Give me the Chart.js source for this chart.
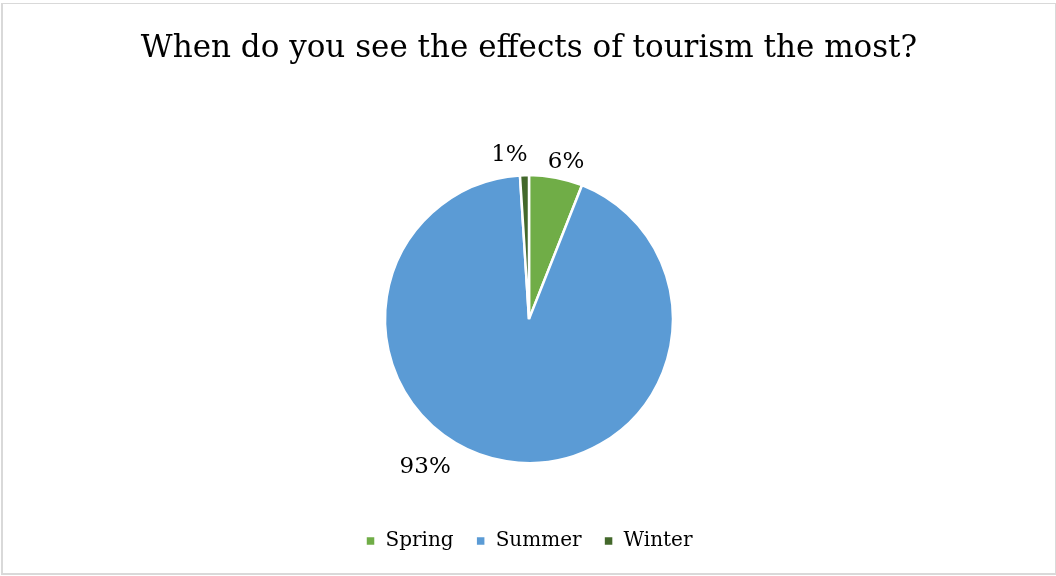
<!DOCTYPE html>
<html>
<head>
<meta charset="utf-8">
<script src="https://cdn.jsdelivr.net/npm/chart.js@4/dist/chart.umd.min.js"></script>
<style>
  html, body { margin: 0; padding: 0; background: #fff; }
  #frame { position: absolute; left: 1px; top: 3px; width: 1052px; height: 569px; border: 2px solid #d9d9d9; border-width: 1px 2px 2px 2px; }
  #wrap { position: absolute; left: 0; top: 0; width: 1056px; height: 576px; }
</style>
</head>
<body>
<div id="frame"></div>
<div id="wrap"><canvas id="grafico"></canvas></div>
<script>
const estacoes = ['Spring', 'Summer', 'Winter'];
const percentuais = [6, 93, 1];
const cores = ['#70AD47', '#5B9BD5', '#43682B'];
const titulo = 'When do you see the effects of tourism the most?';

const fonte = "'DejaVu Serif', serif";

// rótulos de porcentagem fora das fatias
const rotulos = {
    id: 'rotulos',
    afterDatasetsDraw(chart, args, opts) {
        const ctx = chart.ctx;
        const meta = chart.getDatasetMeta(0);
        ctx.save();
        ctx.font = '23px ' + fonte;
        ctx.fillStyle = '#000';
        ctx.textAlign = 'center';
        ctx.textBaseline = 'middle';
        meta.data.forEach((arc, i) => {
            const p = arc.getProps(['x', 'y', 'startAngle', 'endAngle', 'outerRadius'], true);
            const meio = (p.startAngle + p.endAngle) / 2 + opts.desvio[i] * Math.PI / 180;
            const r = p.outerRadius + opts.distancia[i];
            ctx.fillText(percentuais[i] + '%', p.x + Math.cos(meio) * r, p.y + Math.sin(meio) * r);
        });
        ctx.restore();
    }
};

const ctx = document.getElementById('grafico');
new Chart(ctx, {
    type: 'pie',
    data: {
        labels: estacoes,
        datasets: [{
            data: percentuais,
            backgroundColor: cores,
            borderColor: '#fff',
            borderWidth: 2.5,
            radius: 144
        }]
    },
    options: {
        responsive: true,
        maintainAspectRatio: false,
        animation: false,
        layout: { padding: { top: 0, bottom: 15, left: 2 } },
        plugins: {
            title: {
                display: true,
                text: titulo,
                color: '#000',
                font: { family: fonte, size: 31, weight: 'normal' },
                padding: { top: 30, bottom: 62 }
            },
            legend: {
                position: 'bottom',
                labels: {
                    color: '#000',
                    font: { family: fonte, size: 20 },
                    boxWidth: 10,
                    boxHeight: 10,
                    padding: 22
                }
            },
            tooltip: { enabled: false },
            rotulos: {
                desvio: [2.5, 26, -5],
                distancia: [17, 37, 21]
            }
        }
    },
    plugins: [rotulos]
});
</script>
</body>
</html>
